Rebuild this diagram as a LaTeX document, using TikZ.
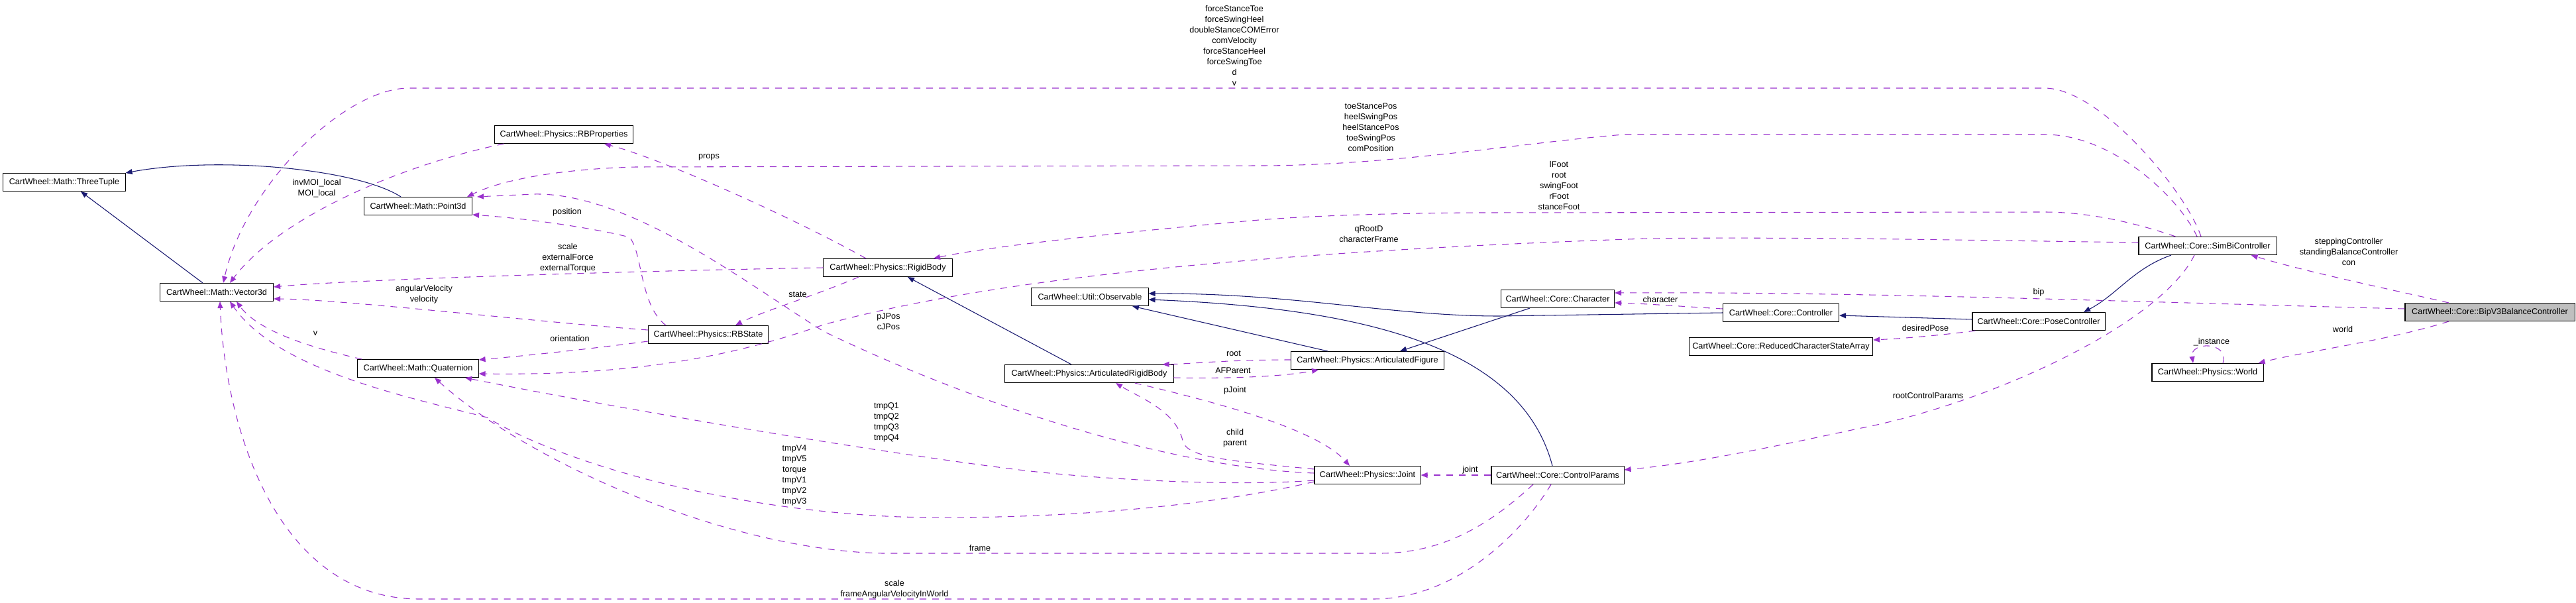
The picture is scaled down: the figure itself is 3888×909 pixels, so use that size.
\documentclass[tikz,border=0pt]{standalone}
\usepackage{fontspec}
\setmainfont{Liberation Sans}
\usepackage{tikz}
\usetikzlibrary{arrows.meta, calc}
\definecolor{edgeblue}{HTML}{191970}
\definecolor{edgepurple}{HTML}{9A32CD}
\newcommand{\dxsize}{\fontsize{3.6}{4.55}\selectfont}

\begin{document}
\begin{tikzpicture}[x=0.01cm, y=-0.01cm,
    cls/.style={draw, fill=white, line width=0.3pt, minimum height=0.27cm, minimum width=#1, inner sep=0.5pt, font=\dxsize},
    inherit/.style={draw=edgeblue, line width=0.3pt, -{Triangle[length=1mm, width=0.8mm]}},
    usage/.style={draw=edgepurple, line width=0.3pt, dash pattern=on 0.1cm off 0.09cm, -{Triangle[length=1mm, width=0.8mm]}},
    lbl/.style={align=center, inner sep=0pt, font=\dxsize}]
    \path[use as bounding box, fill=white] (0,0) rectangle (3888,909);

    \node[cls=1.84cm] (tuple) at (97,275) {CartWheel::Math::ThreeTuple};
    \node[cls=1.71cm] (vec) at (327,441) {CartWheel::Math::Vector3d};
    \node[cls=1.63cm] (pt) at (631,311) {CartWheel::Math::Point3d};
    \node[cls=1.82cm] (quat) at (631,556) {CartWheel::Math::Quaternion};
    \node[cls=2.08cm] (rbprops) at (851,203) {CartWheel::Physics::RBProperties};
    \node[cls=1.81cm] (rbstate) at (1069,505) {CartWheel::Physics::RBState};
    \node[cls=1.94cm] (rigid) at (1340,404) {CartWheel::Physics::RigidBody};
    \node[cls=1.76cm] (observ) at (1645,448) {CartWheel::Util::Observable};
    \node[cls=2.54cm] (artrigid) at (1644,564) {CartWheel::Physics::ArticulatedRigidBody};
    \node[cls=2.30cm] (artfig) at (2064,544) {CartWheel::Physics::ArticulatedFigure};
    \node[cls=1.60cm] (joint) at (2064,717) {CartWheel::Physics::Joint};
    \node[cls=2.00cm] (ctrlparams) at (2351,717) {CartWheel::Core::ControlParams};
    \node[cls=1.71cm] (charac) at (2351,451) {CartWheel::Core::Character};
    \node[cls=1.75cm] (controller) at (2688,472) {CartWheel::Core::Controller};
    \node[cls=2.77cm] (reduced) at (2688,523) {CartWheel::Core::ReducedCharacterStateArray};
    \node[cls=2.00cm] (posectrl) at (3077,485) {CartWheel::Core::PoseController};
    \node[cls=2.08cm] (simbi) at (3332,371) {CartWheel::Core::SimBiController};
    \node[cls=1.68cm] (world) at (3332,562) {CartWheel::Physics::World};
    \node[cls=2.56cm, fill=black!25] (bipv3) at (3758,471) {CartWheel::Core::BipV3BalanceController};

    % inheritance
    \draw[inherit] ($(vec.north)+(-21,0)$) -- ($(tuple.south)+(25,0)$);
    \draw[inherit] ($(pt.north)+(-26,0)$) .. controls (540,255) and (330,235) .. (tuple.north east);
    \draw[inherit] ($(artrigid.north)+(-27,0)$) -- ($(rigid.south)+(30,0)$);
    \draw[inherit] ($(artfig.north)+(-60,0)$) -- ($(observ.south)+(64,0)$);
    \draw[inherit] ($(charac.south)+(-42,0)$) -- ($(artfig.north)+(49,0)$);
    \draw[inherit] (controller.west) -- (2262,477) .. controls (2100,477) and (1950,442) .. ($(observ.east)+(0,-5)$);
    \draw[inherit] ($(ctrlparams.north)+(-8,0)$) .. controls (2295,520) and (2050,465) .. ($(observ.east)+(0,4)$);
    \draw[inherit] ($(posectrl.west)+(0,-3)$) -- ($(controller.east)+(0,4)$);
    \draw[inherit] ($(simbi.south)+(-55,0)$) .. controls (3220,405) and (3195,445) .. ($(posectrl.north)+(68,0)$);

    % members
    \draw[usage] ($(simbi.north)+(-10,0)$) .. controls (3300,290) and (3170,133) .. (3086,133) -- (617,133) .. controls (520,133) and (370,280) .. ($(vec.north)+(10,0)$);
    \draw[usage] ($(simbi.north)+(-16,0)$) .. controls (3290,300) and (3190,203) .. (3086,203) -- (2451,203) .. controls (2300,215) and (2100,250) .. (1900,250) -- (959,252) .. controls (850,255) and (760,270) .. ($(pt.north east)+(-8,0)$);
    \draw[usage] ($(simbi.north west)+(56,0)$) .. controls (3220,335) and (3150,320) .. (3086,320) -- (2233,321) .. controls (2050,322) and (1950,328) .. (1900,332) .. controls (1750,345) and (1500,370) .. ($(rigid.north)+(69,0)$);
    \draw[usage] ($(simbi.west)+(0,-5)$) .. controls (3000,363) and (2700,357) .. (2486,360) .. controls (1900,380) and (1500,420) .. (1243,490) .. controls (1100,540) and (950,567) .. ($(quat.east)+(0,8)$);
    \draw[usage] (rigid.west) .. controls (900,410) and (520,423) .. ($(vec.east)+(0,-8)$);
    \draw[usage] ($(rbstate.west)+(0,-7)$) .. controls (800,485) and (520,452) .. ($(vec.east)+(0,10)$);
    \draw[usage] ($(rbstate.west)+(0,10)$) .. controls (880,528) and (780,538) .. ($(quat.east)+(0,-13)$);
    \draw[usage] ($(rbstate.north west)+(27,0)$) .. controls (965,460) and (970,380) .. (950,358) .. controls (900,345) and (800,330) .. ($(pt.south east)+(0,-1)$);
    \draw[usage] ($(rigid.north)+(-33,0)$) .. controls (1200,330) and (1000,240) .. ($(rbprops.south)+(61,0)$);
    \draw[usage] ($(rigid.south)+(-44,0)$) .. controls (1220,450) and (1150,470) .. ($(rbstate.north)+(41,0)$);
    \draw[usage] ($(rbprops.south west)+(14,0)$) .. controls (600,250) and (420,330) .. ($(vec.north)+(20,0)$);
    \draw[usage] ($(joint.west)+(0,-3)$) .. controls (1750,705) and (1450,600) .. (1243,500) .. controls (1130,430) and (950,290) .. (806,293) -- ($(pt.north east)+(7,0)$);
    \draw[usage] ($(joint.west)+(0,10)$) .. controls (1800,770) and (1550,785) .. (1359,780) .. controls (1100,770) and (850,700) .. (735,630) .. controls (620,600) and (420,560) .. ($(vec.south)+(20,0)$);
    \draw[usage] ($(joint.west)+(0,8)$) .. controls (1850,735) and (1650,722) .. (1546,710) .. controls (1300,680) and (900,610) .. ($(quat.south)+(71,0)$);
    \draw[usage] ($(joint.west)+(0,-9)$) .. controls (1850,695) and (1790,690) .. (1785,665) .. controls (1775,620) and (1720,600) .. ($(artrigid.south)+(40,0)$);
    \draw[usage] ($(artrigid.south east)+(-59,0)$) .. controls (1850,610) and (1990,650) .. ($(joint.north)+(-27,0)$);
    \draw[usage] ($(artfig.west)+(0,-1)$) .. controls (1850,543) and (1800,549) .. ($(artrigid.north east)+(-17,0)$);
    \draw[usage] ($(artrigid.east)+(0,6)$) .. controls (1880,572) and (1950,566) .. ($(artfig.south)+(-74,0)$);
    \draw[usage] (ctrlparams.west) -- (joint.east);
    \draw[usage] ($(ctrlparams.south)+(-10,0)$) .. controls (2300,800) and (2200,904) .. (2073,904) -- (633,904) .. controls (420,904) and (340,650) .. ($(vec.south)+(5,0)$);
    \draw[usage] ($(ctrlparams.south)+(-37,0)$) .. controls (2250,790) and (2180,835) .. (2082,835) -- (1332,835) .. controls (1100,830) and (800,700) .. ($(quat.south)+(25,0)$);
    \draw[usage] ($(quat.north)+(-85,0)$) .. controls (470,525) and (390,500) .. ($(vec.south)+(30,0)$);
    \draw[usage] ($(simbi.south)+(-20,0)$) .. controls (3260,490) and (3000,610) .. (2804,647) .. controls (2650,680) and (2550,700) .. ($(ctrlparams.east)+(0,-8)$);
    \draw[usage] ($(controller.west)+(0,-6)$) .. controls (2530,462) and (2480,458) .. ($(charac.east)+(0,6)$);
    \draw[usage] ($(bipv3.west)+(0,-5)$) .. controls (3200,455) and (2800,440) .. ($(charac.east)+(0,-9)$);
    \draw[usage] ($(posectrl.south west)+(5,0)$) .. controls (2930,506) and (2870,511) .. ($(reduced.east)+(0,-10)$);
    \draw[usage] ($(bipv3.north)+(-62,0)$) .. controls (3600,435) and (3480,410) .. ($(simbi.south east)+(-39,0)$);
    \draw[usage] ($(bipv3.south)+(-62,0)$) .. controls (3600,515) and (3480,530) .. ($(world.north east)+(-8,0)$);
    \draw[usage] ($(world.north)+(23,0)$) .. controls (3365,515) and (3305,515) .. ($(world.north)+(-22,0)$);

    % member names
    \node[lbl] (lbl-moi) at (478,284) {invMOI\_local\\MOI\_local};
    \node[lbl] (lbl-angvel) at (640,444) {angularVelocity\\velocity};
    \node[lbl] (lbl-pos) at (856,320) {position};
    \node[lbl] (lbl-props) at (1070,237) {props};
    \node[lbl] (lbl-ext) at (857,389) {scale\\externalForce\\externalTorque};
    \node[lbl] (lbl-state) at (1204,444) {state};
    \node[lbl] (lbl-orient) at (860,511) {orientation};
    \node[lbl] (lbl-v) at (476,503) {v};
    \node[lbl] (lbl-jpos) at (1341,485) {pJPos\\cJPos};
    \node[lbl] (lbl-tmpq) at (1338,637) {tmpQ1\\tmpQ2\\tmpQ3\\tmpQ4};
    \node[lbl] (lbl-tmpv) at (1199,717) {tmpV4\\tmpV5\\torque\\tmpV1\\tmpV2\\tmpV3};
    \node[lbl] (lbl-root) at (1862,533) {root};
    \node[lbl] (lbl-afparent) at (1861,559) {AFParent};
    \node[lbl] (lbl-pjoint) at (1864,589) {pJoint};
    \node[lbl] (lbl-child) at (1864,661) {child\\parent};
    \node[lbl] (lbl-joint) at (2219,709) {joint};
    \node[lbl] (lbl-frame) at (1479,827) {frame};
    \node[lbl] (lbl-frameang) at (1350,889) {scale\\frameAngularVelocityInWorld};
    \node[lbl] (lbl-force) at (1863,69) {forceStanceToe\\forceSwingHeel\\doubleStanceCOMError\\comVelocity\\forceStanceHeel\\forceSwingToe\\d\\v};
    \node[lbl] (lbl-toe) at (2069,192) {toeStancePos\\heelSwingPos\\heelStancePos\\toeSwingPos\\comPosition};
    \node[lbl] (lbl-foot) at (2353,280) {lFoot\\root\\swingFoot\\rFoot\\stanceFoot};
    \node[lbl] (lbl-qroot) at (2066,353) {qRootD\\characterFrame};
    \node[lbl] (lbl-charac) at (2506,452) {character};
    \node[lbl] (lbl-desired) at (2906,495) {desiredPose};
    \node[lbl] (lbl-bip) at (3077,441) {bip};
    \node[lbl] (lbl-con) at (3545,380) {steppingController\\standingBalanceController\\con};
    \node[lbl] (lbl-world) at (3536,497) {world};
    \node[lbl] (lbl-instance) at (3338,516) {\_instance};
    \node[lbl] (lbl-rootcp) at (2910,597) {rootControlParams};
\end{tikzpicture}
\end{document}
